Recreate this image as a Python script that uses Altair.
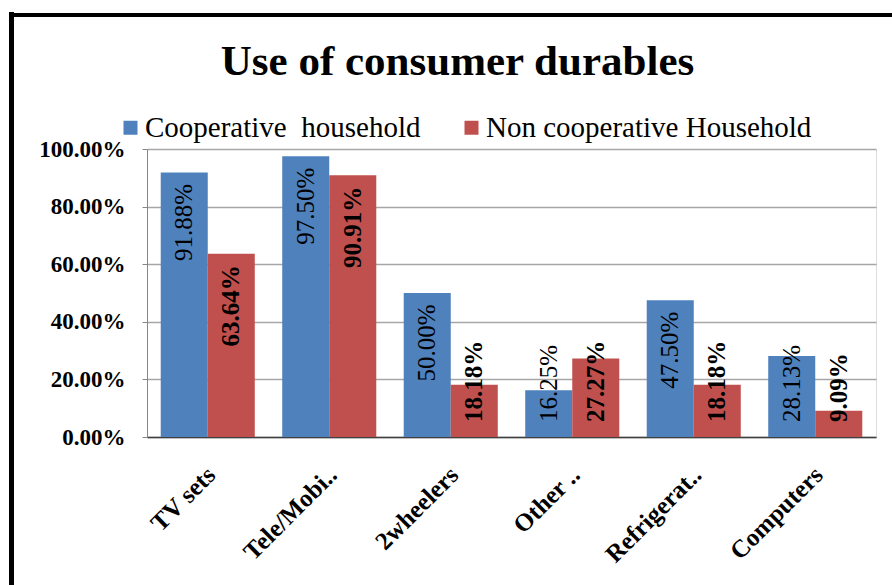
import altair as alt
import pandas as pd

# Share of households using each consumer durable
items = ["TV sets", "Tele/Mobi..", "2wheelers", "Other ..", "Refrigerat..", "Computers"]
series = ["Cooperative\u00a0 household", "Non cooperative Household"]
cooperative = [0.9188, 0.9750, 0.5000, 0.1625, 0.4750, 0.2813]
non_cooperative = [0.6364, 0.9091, 0.1818, 0.2727, 0.1818, 0.0909]
colors = ["#4F81BD", "#C0504D"]

rows = []
for i, item in enumerate(items):
    rows.append({"item": item, "group": series[0], "value": cooperative[i]})
    rows.append({"item": item, "group": series[1], "value": non_cooperative[i]})
df = pd.DataFrame(rows)

SERIF = "Liberation Serif"
W, H = 729, 288

x_enc = alt.X(
    "item:N",
    sort=items,
    title=None,
    scale=alt.Scale(paddingInner=0.226, paddingOuter=0.113),
    axis=alt.Axis(
        labelAngle=-45,
        labelFont=SERIF,
        labelFontSize=25,
        labelFontWeight="bold",
        labelColor="black",
        labelPadding=25,
        labelOffset=-5,
        labelLimit=300,
        ticks=False,
        domainColor="#404040",
        domainWidth=1.5,
        grid=False,
    ),
)
y_scale = alt.Scale(domain=[0, 1])
xoff = alt.XOffset("group:N", sort=series)

bars = alt.Chart(df).mark_bar().encode(
    x=x_enc,
    xOffset=xoff,
    y=alt.Y(
        "value:Q",
        scale=y_scale,
        title=None,
        axis=alt.Axis(
            format=".2%",
            values=[0, 0.2, 0.4, 0.6, 0.8, 1.0],
            labelFont=SERIF,
            labelFontSize=23,
            labelFontWeight="bold",
            labelColor="black",
            labelPadding=17,
            tickSize=5,
            tickColor="#868686",
            domainColor="#868686",
            gridColor="#A6A6A6",
            gridWidth=1.3,
        ),
    ),
    color=alt.Color(
        "group:N",
        sort=series,
        scale=alt.Scale(domain=series, range=colors),
        legend=alt.Legend(
            title=None,
            orient="none",
            legendX=-31,
            legendY=-36,
            direction="horizontal",
            symbolType="square",
            symbolSize=196,
            symbolStrokeWidth=0,
            symbolOpacity=1,
            labelFont=SERIF,
            labelFontSize=29,
            labelFontWeight="normal",
            labelColor="black",
            labelOffset=0,
            labelLimit=400,
            columnPadding=36,
            padding=0,
        ),
    ),
)

# Value labels, rotated; long bars hold the label just under the bar end,
# short bars carry it from a fixed spot near the baseline.
def value_labels(group, tall, weight):
    base = alt.Chart(df).transform_filter(
        alt.datum.group == group
    ).transform_filter(
        (alt.datum.value >= 0.372) if tall else (alt.datum.value < 0.372)
    ).transform_calculate(
        pos="datum.value - 0.04" if tall else "0.052",
        label="format(datum.value, '.2%')",
    )
    return base.mark_text(
        angle=270,
        align="right" if tall else "left",
        baseline="middle",
        font=SERIF,
        fontSize=25,
        fontWeight=weight,
        color="black",
    ).encode(
        x=alt.X("item:N", sort=items),
        xOffset=xoff,
        y=alt.Y("pos:Q", scale=y_scale),
        text="label:N",
    )

labels = [
    value_labels(series[0], True, "normal"),
    value_labels(series[0], False, "normal"),
    value_labels(series[1], True, "bold"),
    value_labels(series[1], False, "bold"),
]

# Black frame around the chart (left and top edges)
frame_df = pd.DataFrame({"k": [0]})
frame_left = alt.Chart(frame_df).mark_rule(color="black", strokeWidth=5).encode(
    x=alt.value(-135.5), y=alt.value(-137), y2=alt.value(460)
)
frame_top = alt.Chart(frame_df).mark_rule(color="black", strokeWidth=4).encode(
    x=alt.value(-138), x2=alt.value(760), y=alt.value(-134)
)

chart = alt.layer(bars, *labels, frame_left, frame_top).properties(
    width=W,
    height=H,
    title=alt.TitleParams(
        "Use of consumer durables",
        font=SERIF,
        fontSize=43,
        fontWeight="bold",
        color="black",
        anchor="middle",
        frame="group",
        dx=-54,
        dy=74,
        offset=0,
    ),
    padding={"left": 147, "top": 149, "right": 16, "bottom": 148},
    autosize=alt.AutoSizeParams(type="none"),
).configure_view(stroke=None).configure(background="white")

chart.save("out.html", embed_options={"renderer": "svg", "actions": False})
